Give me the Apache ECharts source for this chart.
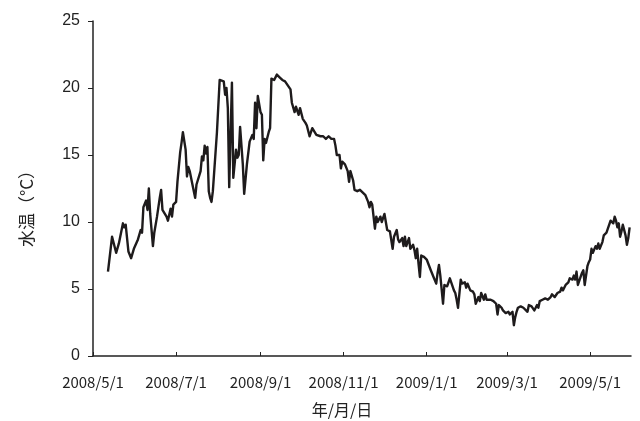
<!DOCTYPE html>
<html>
<head>
<meta charset="utf-8">
<script src="https://cdn.jsdelivr.net/npm/echarts@6/dist/echarts.min.js"></script>
<style>
  html, body { margin: 0; padding: 0; background: #fff; }
  #chart { width: 640px; height: 421px; }
</style>
</head>
<body>
<div id="chart"></div>
<script>
// Water temperature record, May 2008 – May 2009
const sampleDates = [
  '2008-05-12','2008-05-15','2008-05-18','2008-05-20','2008-05-23','2008-05-24','2008-05-25','2008-05-27','2008-05-29','2008-05-31',
  '2008-06-03','2008-06-05','2008-06-06','2008-06-07','2008-06-09','2008-06-10','2008-06-11','2008-06-12','2008-06-14','2008-06-15',
  '2008-06-17','2008-06-19','2008-06-20','2008-06-21','2008-06-24','2008-06-25','2008-06-27','2008-06-28','2008-06-29','2008-07-01',
  '2008-07-02','2008-07-04','2008-07-05','2008-07-06','2008-07-07','2008-07-08','2008-07-09','2008-07-10','2008-07-11','2008-07-13',
  '2008-07-14','2008-07-15','2008-07-16','2008-07-19','2008-07-20','2008-07-21','2008-07-22','2008-07-23','2008-07-24','2008-07-25',
  '2008-07-26','2008-07-27','2008-07-28','2008-07-31','2008-08-02','2008-08-03','2008-08-05','2008-08-06','2008-08-07','2008-08-08',
  '2008-08-09','2008-08-11','2008-08-12','2008-08-14','2008-08-15','2008-08-16','2008-08-17','2008-08-19','2008-08-20','2008-08-22',
  '2008-08-24','2008-08-26','2008-08-27','2008-08-28','2008-08-29','2008-08-30','2008-09-01','2008-09-02','2008-09-03','2008-09-04',
  '2008-09-05','2008-09-07','2008-09-08','2008-09-09','2008-09-11','2008-09-13','2008-09-15','2008-09-17','2008-09-19','2008-09-21',
  '2008-09-23','2008-09-24','2008-09-25','2008-09-26','2008-09-27','2008-09-29','2008-09-30','2008-10-02','2008-10-04','2008-10-05',
  '2008-10-07','2008-10-09','2008-10-10','2008-10-12','2008-10-15','2008-10-17','2008-10-19','2008-10-21','2008-10-23','2008-10-25',
  '2008-10-26','2008-10-27','2008-10-29','2008-10-30','2008-10-31','2008-11-02','2008-11-03','2008-11-04','2008-11-05','2008-11-06',
  '2008-11-08','2008-11-09','2008-11-11','2008-11-13','2008-11-14','2008-11-17','2008-11-19','2008-11-20','2008-11-21','2008-11-22',
  '2008-11-24','2008-11-25','2008-11-26','2008-11-28','2008-11-29','2008-12-01','2008-12-02','2008-12-03','2008-12-05','2008-12-07',
  '2008-12-08','2008-12-10','2008-12-11','2008-12-12','2008-12-14','2008-12-15','2008-12-16','2008-12-17','2008-12-19','2008-12-20',
  '2008-12-22','2008-12-23','2008-12-24','2008-12-25','2008-12-26','2008-12-27','2008-12-28','2008-12-30','2009-01-01','2009-01-04',
  '2009-01-06','2009-01-08','2009-01-09','2009-01-10','2009-01-11','2009-01-13','2009-01-14','2009-01-16','2009-01-17','2009-01-18',
  '2009-01-19','2009-01-21','2009-01-22','2009-01-23','2009-01-24','2009-01-26','2009-01-27','2009-01-29','2009-01-30','2009-01-31',
  '2009-02-02','2009-02-04','2009-02-05','2009-02-06','2009-02-08','2009-02-09','2009-02-10','2009-02-12','2009-02-13','2009-02-14',
  '2009-02-15','2009-02-17','2009-02-19','2009-02-21','2009-02-22','2009-02-23','2009-02-25','2009-02-26','2009-02-28','2009-03-02',
  '2009-03-03','2009-03-05','2009-03-06','2009-03-07','2009-03-08','2009-03-09','2009-03-11','2009-03-13','2009-03-14','2009-03-16',
  '2009-03-17','2009-03-19','2009-03-20','2009-03-21','2009-03-23','2009-03-24','2009-03-25','2009-03-27','2009-03-29','2009-03-31',
  '2009-04-02','2009-04-03','2009-04-05','2009-04-07','2009-04-09','2009-04-10','2009-04-11','2009-04-13','2009-04-14','2009-04-15',
  '2009-04-16','2009-04-18','2009-04-19','2009-04-20','2009-04-21','2009-04-22','2009-04-23','2009-04-25','2009-04-26','2009-04-27',
  '2009-04-29','2009-04-30','2009-05-01','2009-05-02','2009-05-03','2009-05-05','2009-05-06','2009-05-07','2009-05-08','2009-05-10',
  '2009-05-11','2009-05-13','2009-05-14','2009-05-15','2009-05-16','2009-05-18','2009-05-19','2009-05-20','2009-05-21','2009-05-22',
  '2009-05-23','2009-05-24','2009-05-25','2009-05-27','2009-05-28','2009-05-29','2009-05-30'
];

const waterTemp = [
  6.3, 8.9, 7.7, 8.4, 9.9, 9.6, 9.8, 7.8, 7.3, 8.0,
  8.7, 9.4, 9.2, 11.1, 11.6, 10.9, 12.5, 10.6, 8.2, 9.2,
  10.4, 11.8, 12.4, 10.9, 10.4, 10.1, 11.0, 10.4, 11.3, 11.5,
  13.0, 15.2, 15.9, 16.7, 16.6, 15.4, 13.4, 14.1, 13.8, 12.8,
  12.9, 11.8, 12.8, 13.8, 14.9, 14.6, 15.7, 15.1, 15.6, 12.3,
  11.8, 11.5, 12.3, 16.7, 20.6, 20.6, 20.5, 19.5, 20.0, 18.5,
  12.6, 20.4, 13.3, 15.4, 14.8, 15.0, 17.1, 14.3, 12.1, 14.3,
  16.0, 16.5, 16.2, 18.9, 17.0, 19.4, 18.2, 18.0, 14.6, 16.2,
  15.9, 16.7, 17.0, 20.7, 20.6, 21.0, 20.8, 20.6, 20.5, 20.2,
  19.9, 18.9, 19.0, 18.2, 18.6, 18.0, 18.5, 17.7, 17.4, 17.2,
  16.4, 17.0, 16.9, 16.5, 16.4, 16.4, 16.2, 16.4, 16.2, 16.2,
  15.7, 15.0, 15.0, 14.0, 14.5, 14.3, 14.4, 13.8, 13.0, 13.8,
  13.1, 12.4, 12.3, 12.4, 12.3, 12.0, 11.5, 11.1, 11.5, 11.3,
  9.5, 10.4, 10.0, 10.4, 10.0, 10.6, 10.6, 9.4, 9.3, 8.0,
  8.9, 9.4, 8.7, 8.5, 8.8, 8.2, 8.9, 8.2, 8.8, 8.0,
  8.3, 7.9, 7.3, 8.0, 6.9, 5.9, 7.5, 7.4, 7.2, 6.4,
  5.9, 5.4, 6.2, 6.8, 6.0, 3.9, 5.3, 5.2, 5.1, 5.8,
  5.5, 4.9, 4.7, 4.2, 3.6, 5.7, 5.4, 5.5, 5.1, 5.4,
  4.9, 4.8, 4.6, 3.9, 4.4, 4.1, 4.7, 4.2, 4.6, 4.2,
  4.3, 4.2, 4.1, 3.9, 3.1, 3.8, 3.6, 3.4, 3.2, 3.3,
  3.1, 3.3, 2.3, 2.9, 3.3, 3.6, 3.7, 3.6, 3.7, 3.3,
  3.8, 3.7, 3.8, 3.4, 3.8, 3.6, 4.1, 4.2, 4.3, 4.2,
  4.4, 4.6, 4.4, 4.7, 4.8, 5.1, 4.9, 5.3, 5.2, 5.5,
  5.8, 5.7, 6.0, 5.7, 6.3, 5.3, 5.4, 6.2, 6.4, 5.3,
  6.7, 7.0, 7.2, 8.0, 7.7, 8.2, 8.0, 8.4, 8.0, 8.5,
  9.0, 9.2, 9.2, 9.8, 10.1, 9.9, 10.4, 10.1, 9.6, 9.9,
  8.9, 9.3, 9.8, 9.0, 8.3, 8.8, 9.6
];

// Tick positions on the date axis (every two months)
const monthTicks = ['2008-05-01', '2008-07-01', '2008-09-01', '2008-11-01', '2009-01-01', '2009-03-01', '2009-05-01'];
const axisStart = '2008-05-01';
const axisEnd = '2009-05-31';
const tempTicks = [0, 5, 10, 15, 20, 25];

function toTime(s) {
  const p = s.split('-').map(Number);
  return new Date(p[0], p[1] - 1, p[2]).getTime();
}
function fmtDate(v) {
  const d = new Date(v);
  return d.getFullYear() + '/' + (d.getMonth() + 1) + '/' + d.getDate();
}

const seriesData = sampleDates.map((d, i) => [toTime(d), waterTemp[i]]);
const tickTimes = monthTicks.map(toTime);

const chart = echarts.init(document.getElementById('chart'), null, { renderer: 'canvas' });
chart.setOption({
  animation: false,
  backgroundColor: '#ffffff',
  grid: { left: 93, right: 9, top: 21, bottom: 65, containLabel: false, outerBoundsMode: 'none' },
  xAxis: {
    type: 'value',
    min: toTime(axisStart),
    max: toTime(axisEnd),
    name: '年/月/日',
    nameLocation: 'middle',
    nameGap: 46,
    nameTextStyle: {
      fontFamily: '"Noto Sans CJK JP", sans-serif',
      fontSize: 16,
      color: '#222',
      padding: [0, 40, 0, 0]
    },
    axisLine: { show: true, lineStyle: { color: '#222', width: 1.5 } },
    axisTick: {
      show: true,
      inside: true,
      length: 4,
      customValues: tickTimes,
      lineStyle: { color: '#222', width: 1 }
    },
    axisLabel: {
      customValues: tickTimes,
      formatter: fmtDate,
      margin: 19,
      fontFamily: '"Noto Sans CJK JP", sans-serif',
      fontSize: 15,
      color: '#222',
      hideOverlap: false
    },
    splitLine: { show: false }
  },
  yAxis: {
    type: 'value',
    min: tempTicks[0],
    max: tempTicks[tempTicks.length - 1],
    interval: 5,
    name: '水温（°C）',
    nameLocation: 'middle',
    nameRotate: 90,
    nameGap: 58,
    nameTextStyle: {
      fontFamily: '"Noto Sans CJK JP", sans-serif',
      fontSize: 17,
      color: '#222',
      padding: [0, 32, 0, 0]
    },
    axisLine: { show: true, lineStyle: { color: '#222', width: 1.5 } },
    axisTick: { show: true, inside: false, length: 5, lineStyle: { color: '#222', width: 1 } },
    axisLabel: {
      margin: 13,
      fontFamily: '"Liberation Sans", Arial, sans-serif',
      fontSize: 16,
      color: '#222'
    },
    splitLine: { show: false }
  },
  series: [{
    type: 'line',
    data: seriesData,
    showSymbol: false,
    symbol: 'none',
    lineStyle: { color: '#1e1b1c', width: 2.4, join: 'round' }
  }]
});
</script>
</body>
</html>
